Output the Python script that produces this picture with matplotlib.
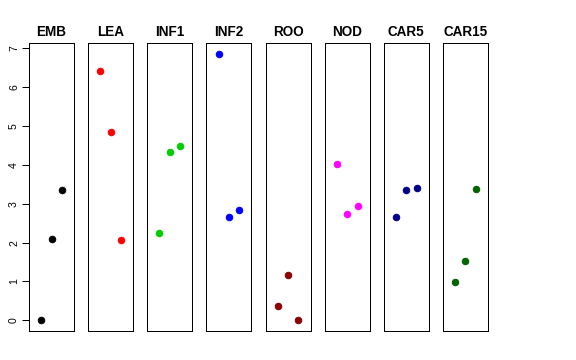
import matplotlib
matplotlib.use("Agg")
import matplotlib.pyplot as plt

plt.rcParams['font.family'] = ['Liberation Sans', 'DejaVu Sans']

# Dados
grupos = ["EMB", "LEA", "INF1", "INF2", "ROO", "NOD", "CAR5", "CAR15"]
cores = ["black", "red", "#00CD00", "blue", "#8B0000", "magenta", "#00008B", "#006400"]
x_pos = [1, 2, 3]
valores = {
    "EMB": [0.00, 2.08, 3.36],
    "LEA": [6.42, 4.85, 2.07],
    "INF1": [2.25, 4.32, 4.49],
    "INF2": [6.86, 2.67, 2.85],
    "ROO": [0.38, 1.17, 0.00],
    "NOD": [4.01, 2.73, 2.95],
    "CAR5": [2.67, 3.34, 3.41],
    "CAR15": [0.98, 1.53, 3.39],
}
y_ticks = [0, 1, 2, 3, 4, 5, 6, 7]

W, H = 576, 360
fig = plt.figure(figsize=(W / 72, H / 72), dpi=72)

ymax = max(max(v) for v in valores.values())
ylim = (-0.04 * ymax, ymax * 1.04)

for i, g in enumerate(grupos):
    left = 29 + i * 59.14
    ax = fig.add_axes([left / W, 1 - 331 / H, 45 / W, 288 / H])
    ax.plot(x_pos, valores[g], "o", color=cores[i], markersize=6.5)
    ax.set_xlim(-0.16, 4.16)
    ax.set_ylim(*ylim)
    ax.set_xticks([])
    for s in ax.spines.values():
        s.set_linewidth(1)
        s.set_color("black")
    ax.set_title(g, fontweight="bold", fontsize=13.5, pad=7)
    if i == 0:
        ax.set_yticks(y_ticks)
        ax.set_yticklabels([str(t) for t in y_ticks], rotation=90, va="center", fontsize=10.5)
        ax.tick_params(axis="y", length=7, width=1, pad=3)
    else:
        ax.set_yticks([])

plt.savefig("out.png", dpi=72)
